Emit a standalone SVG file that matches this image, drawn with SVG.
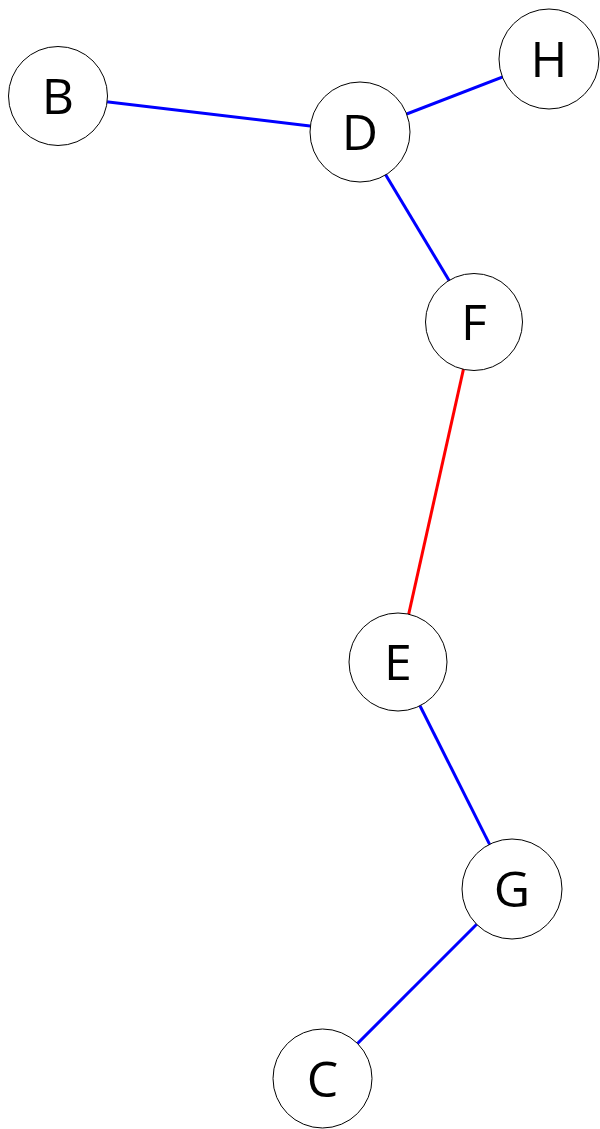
<svg xmlns="http://www.w3.org/2000/svg" width="600" height="1129" viewBox="0 0 600 1129">
  <style>
    .edge { stroke-width: 3; fill: none; }
    .blue { stroke: #0000ff; }
    .red { stroke: #ff0000; }
    .node circle { fill: #ffffff; stroke: #000000; stroke-width: 1; }
    .node text { font-family: "Open Sans", "DejaVu Sans", sans-serif; font-size: 50px; fill: #000000; text-anchor: middle; }
  </style>
  <rect width="600" height="1129" fill="#ffffff"/>
  <g id="edges">
    <line class="edge blue" x1="58" y1="96" x2="360" y2="132"/>
    <line class="edge blue" x1="360" y1="132" x2="549" y2="59"/>
    <line class="edge blue" x1="360" y1="132" x2="474" y2="322"/>
    <line class="edge red" x1="474" y1="322" x2="398" y2="662"/>
    <line class="edge blue" x1="398" y1="662" x2="512" y2="889"/>
    <line class="edge blue" x1="512" y1="889" x2="322.5" y2="1078.5"/>
  </g>
  <g id="node-B" class="node"><circle cx="58" cy="96" r="49.5"/><text x="58" y="114">B</text></g>
  <g id="node-D" class="node"><circle cx="360" cy="132" r="50"/><text x="360" y="150">D</text></g>
  <g id="node-H" class="node"><circle cx="549" cy="59" r="50"/><text x="549" y="77">H</text></g>
  <g id="node-F" class="node"><circle cx="474" cy="322" r="48.5"/><text x="474" y="340">F</text></g>
  <g id="node-E" class="node"><circle cx="398" cy="662" r="49"/><text x="398" y="680">E</text></g>
  <g id="node-G" class="node"><circle cx="512" cy="889" r="50"/><text x="512" y="907">G</text></g>
  <g id="node-C" class="node"><circle cx="322.5" cy="1078.5" r="49.5"/><text x="322.5" y="1096.5">C</text></g>
</svg>
